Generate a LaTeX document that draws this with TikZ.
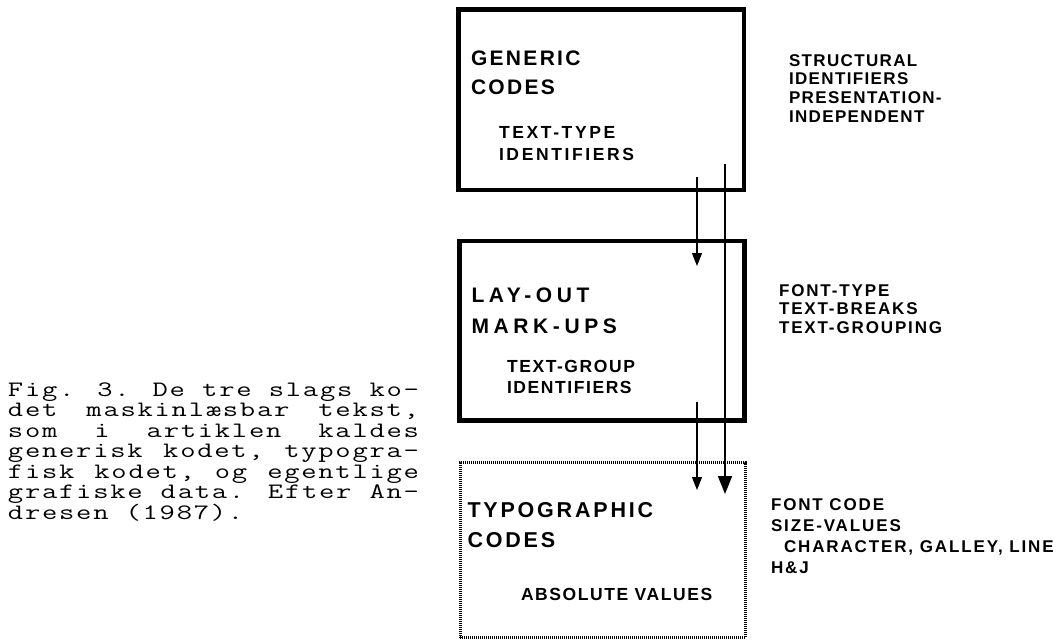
\documentclass[tikz,border=0pt]{standalone}
\usepackage{fontspec}
\setmainfont{Liberation Sans}
\newfontfamily\tTitle{Liberation Sans}[LetterSpace=11]
\newfontfamily\tTitleB{Liberation Sans}[LetterSpace=13]
\newfontfamily\tWide{Liberation Sans}[LetterSpace=22]
\newfontfamily\tSmallA{Liberation Sans}[LetterSpace=15]
\newfontfamily\tSmall{Liberation Sans}[LetterSpace=9]
\newfontfamily\tSide{Liberation Sans}[LetterSpace=8]
\newfontfamily\tSideB{Liberation Sans}[LetterSpace=11]
\newfontfamily\tCap{Latin Modern Mono}[FakeStretch=1.35,LetterSpace=8]
\usetikzlibrary{arrows.meta}
\tikzset{
  frame/.style={draw, line width=4.5pt, inner sep=0pt, outer sep=0pt},
  dotframe/.style={draw, line width=3pt, dash pattern=on 1.4pt off 0.6pt, inner sep=0pt, outer sep=0pt},
  lbl/.style={anchor=base west, inner sep=0pt, outer sep=0pt, align=left},
  ttl/.style={lbl, font=\tTitle\bfseries\fontsize{21}{29}\selectfont},
  ttlw/.style={lbl, font=\tWide\bfseries\fontsize{21}{31}\selectfont},
  sub/.style={lbl, font=\tSmall\bfseries\fontsize{17.5}{20.5}\selectfont},
  side/.style={lbl, font=\tSide\bfseries\fontsize{17}{18.6}\selectfont},
  capline/.style={lbl, font=\tCap\fontsize{22}{20}\selectfont},
  conn/.style={line width=1.1pt, -{Triangle[width=10pt,length=13pt]}},
  connbig/.style={line width=1.8pt, -{Triangle[width=14pt,length=18pt]}},
}
\begin{document}
\begin{tikzpicture}[x=1pt,y=-1pt]
\useasboundingbox (0,0) rectangle (1057,640);
% boxes
\node[frame, minimum width=285.5pt, minimum height=180.5pt] (gen) at (601.25,99.75) {};
\node[frame, minimum width=285pt, minimum height=179.5pt] (lay) at (602,330.75) {};
\node[dotframe, minimum width=285.5pt, minimum height=175pt] (typ) at (602.75,550) {};
% box texts (anchored at the baseline of their last line)
\node[ttl] (genT) at (471,94) {GENERIC\\CODES};
\node[sub, font=\tSmallA\bfseries\fontsize{17.5}{22}\selectfont] (genS) at (499,160) {TEXT-TYPE\\IDENTIFIERS};
\node[ttlw] (layT) at (471.5,333) {LAY-OUT\\MARK-UPS};
\node[sub] (layS) at (507,393) {TEXT-GROUP\\IDENTIFIERS};
\node[ttl, font=\tTitleB\bfseries\fontsize{21.5}{30}\selectfont] (typT) at (467.5,547) {TYPOGRAPHIC\\CODES};
\node[sub] (typS) at (521,600) {ABSOLUTE VALUES};
% side texts
\node[side] (genR) at (789,122) {STRUCTURAL\\IDENTIFIERS\\PRESENTATION-\\INDEPENDENT};
\node[side, font=\tSideB\bfseries\fontsize{17}{18.3}\selectfont] (layR) at (779,333) {FONT-TYPE\\TEXT-BREAKS\\TEXT-GROUPING};
\node[side, font=\tSideB\bfseries\fontsize{17}{21}\selectfont] (typR) at (771,573) {FONT CODE\\SIZE-VALUES\\\hspace*{13pt}CHARACTER, GALLEY, LINE\\H\&J};
% connectors
\coordinate (a1s) at (697,177);
\coordinate (a1e) at (697,266);
\coordinate (a2s) at (697,402);
\coordinate (a2e) at (697,490);
\coordinate (a3s) at (725,164);
\coordinate (a3e) at (725,494);
\draw[conn] (a1s) -- (a1e);
\draw[conn] (a2s) -- (a2e);
\draw[connbig] (a3s) -- (a3e);
% caption
\node[capline] (c1) at (8,396) {\makebox[411pt][l]{Fig. \hfill3. \hfill De \hfill tre \hfill slags \hfill ko-}};
\node[capline] (c2) at (8,416.5) {\makebox[411pt][l]{det \hfill maskinlæsbar \hfill tekst,}};
\node[capline] (c3) at (8,437) {\makebox[411pt][l]{som \hfill i \hfill artiklen \hfill kaldes}};
\node[capline] (c4) at (8,457.5) {\makebox[411pt][l]{generisk \hfill kodet, \hfill typogra-}};
\node[capline] (c5) at (8,478) {\makebox[411pt][l]{fisk \hfill kodet, \hfill og \hfill egentlige}};
\node[capline] (c6) at (8,498.5) {\makebox[411pt][l]{grafiske \hfill data. \hfill Efter \hfill An-}};
\node[capline] (c7) at (8,519) {dresen (1987).};
\end{tikzpicture}
\end{document}
